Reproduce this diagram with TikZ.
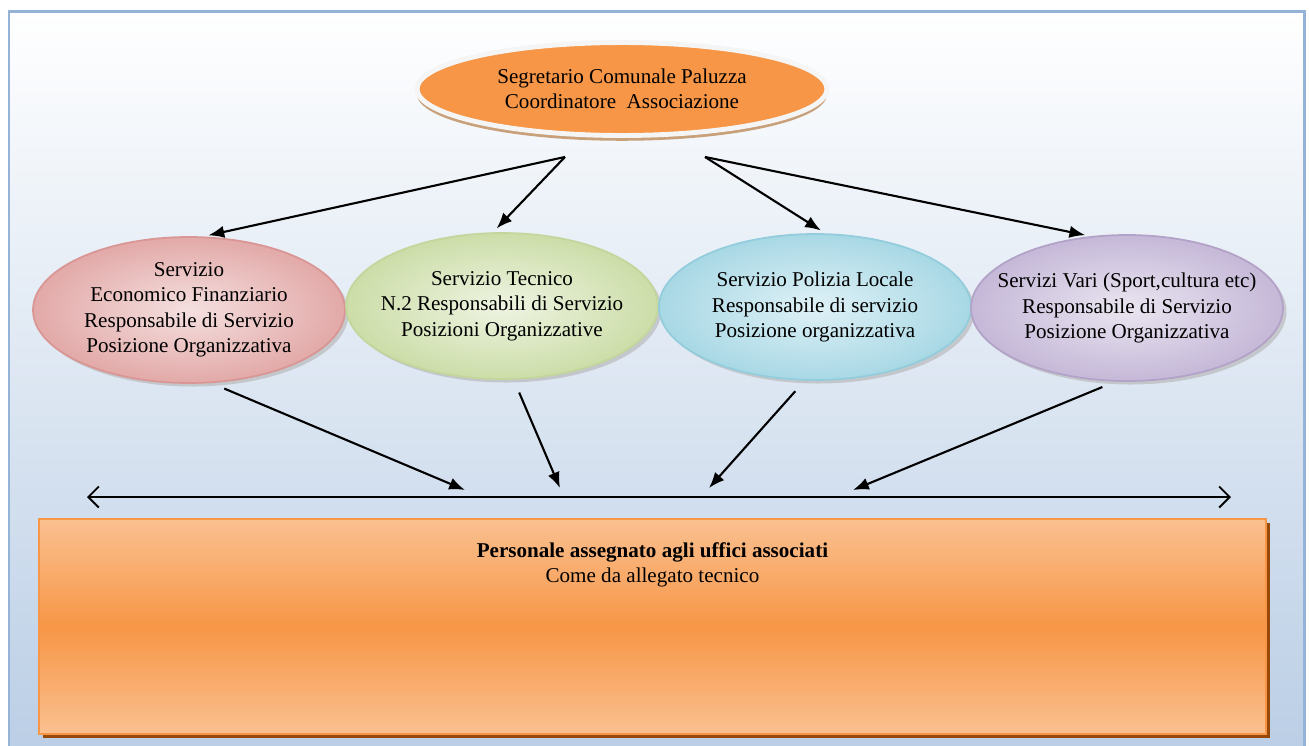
\documentclass[tikz,border=0pt]{standalone}
\usepackage{fontspec}
\setmainfont{Liberation Serif}
\usepackage{xcolor}
\definecolor{frameblue}{RGB}{149, 179, 215}
\definecolor{paleblue}{RGB}{185, 205, 229}
\definecolor{segorange}{RGB}{247, 150, 70}
\definecolor{segshadow}{RGB}{200, 160, 122}
\definecolor{lightorange}{RGB}{250, 192, 144}
\definecolor{darkorange}{RGB}{152, 72, 7}
\definecolor{redline}{RGB}{217, 150, 148}
\definecolor{redin}{RGB}{244, 224, 223}
\definecolor{redout}{RGB}{226, 169, 168}
\definecolor{greenline}{RGB}{195, 214, 155}
\definecolor{greenin}{RGB}{238, 244, 226}
\definecolor{greenout}{RGB}{204, 221, 168}
\definecolor{blueline}{RGB}{147, 205, 221}
\definecolor{bluein}{RGB}{223, 241, 246}
\definecolor{blueout}{RGB}{168, 216, 229}
\definecolor{violetline}{RGB}{179, 162, 199}
\definecolor{violetin}{RGB}{234, 229, 240}
\definecolor{violetout}{RGB}{197, 184, 216}
\usetikzlibrary{shapes.geometric, arrows.meta, positioning, calc, shadows}

\begin{document}
\begin{tikzpicture}[x=0.02cm, y=-0.02cm, font=\fontsize{12}{14.5}\selectfont,
        chief/.style={ellipse, draw=black!4, line width=2.8pt, fill=segorange, align=center, inner sep=0pt,
            minimum width=8.2cm, minimum height=1.86cm,
            general shadow={fill=segshadow, shadow yshift=-3pt}},
        servizio/.style={ellipse, line width=1pt, align=center, inner xsep=-12pt, inner ysep=-5pt,
            minimum width=6.24cm, minimum height=2.92cm,
            general shadow={fill=black!30, opacity=0.6, shadow xshift=2pt, shadow yshift=-2pt}},
        staffbox/.style={rectangle, draw=segorange, line width=1.2pt, top color=lightorange, bottom color=lightorange, middle color=segorange,
            general shadow={fill=darkorange, shadow xshift=2.5pt, shadow yshift=-2.5pt}},
        link/.style={draw=black, line width=1.2pt, -{Latex[length=9pt,width=7pt]}},
        spread/.style={draw=black, line width=1.1pt, {Straight Barb[length=6pt,width=12pt]}-{Straight Barb[length=6pt,width=12pt]}}]

    \useasboundingbox (0,0) rectangle (1309,745);
    % sfondo con cornice
    \shade[top color=white, bottom color=paleblue, draw=frameblue, line width=1.7pt] (9,11) rectangle (1304,770);

    \node [chief] (segretario) at (622,89) {Segretario Comunale Paluzza\\Coordinatore\ \ Associazione};

    \node [servizio, draw=redline, inner color=redin, outer color=redout] (finanz) at (189,310)
        {Servizio\\Economico Finanziario\\Responsabile di Servizio\\Posizione Organizzativa};
    \node [servizio, draw=greenline, inner color=greenin, outer color=greenout] (tecnico) at (502,306)
        {Servizio Tecnico\\N.2 Responsabili di Servizio\\Posizioni Organizzative};
    \node [servizio, draw=blueline, inner color=bluein, outer color=blueout] (polizia) at (815,307)
        {Servizio Polizia Locale\\Responsabile di servizio\\Posizione organizzativa};
    \node [servizio, draw=violetline, inner color=violetin, outer color=violetout] (vari) at (1127,308)
        {Servizi Vari (Sport,cultura etc)\\Responsabile di Servizio\\Posizione Organizzativa};

    \node [staffbox, anchor=north west, minimum width=24.54cm, minimum height=4.3cm] (personale) at (38,518) {};
    \node [below=0.36cm of personale.north, align=center] (personaleTxt)
        {\textbf{Personale assegnato agli uffici associati}\\Come da allegato tecnico};

    % punti di partenza e linea di distribuzione
    \coordinate (outL) at ($(segretario.south)+(-57,19)$);
    \coordinate (outR) at ($(segretario.south)+(83,19)$);
    \coordinate (distL) at (87,497);
    \coordinate (distR) at (1231,497);
    \coordinate (d1) at (465,490);
    \coordinate (d2) at (560,488);
    \coordinate (d3) at (709,488);
    \coordinate (d4) at (853,490);

    \draw [link, shorten >=3pt] (outL) -- (finanz.79);
    \draw [link, shorten >=3pt] (outL) -- (tecnico.97);
    \draw [link, shorten >=3pt] (outR) -- (polizia.82);
    \draw [link, shorten >=3pt] (outR) -- (vari.117);

    \draw [spread] (distL) -- (distR);

    \draw [link, shorten <=8pt] (finanz.287) -- (d1);
    \draw [link, shorten <=8pt] (tecnico.279) -- (d2);
    \draw [link, shorten <=8pt] (polizia.262) -- (d3);
    \draw [link, shorten <=8pt] (vari.261) -- (d4);
\end{tikzpicture}
\end{document}
